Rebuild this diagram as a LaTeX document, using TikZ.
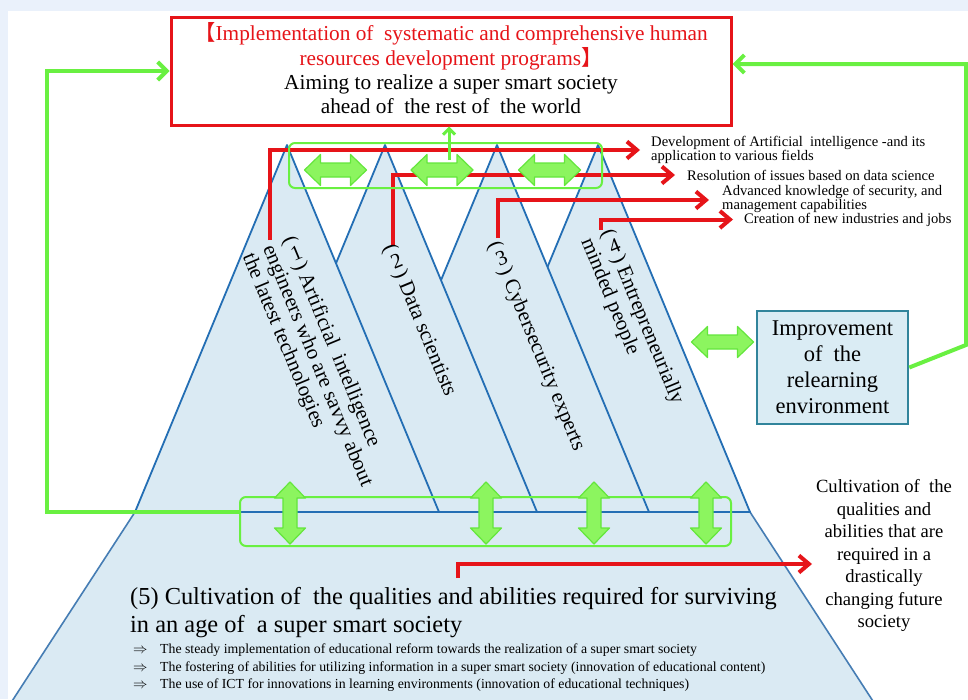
\documentclass[tikz,border=0pt]{standalone}
\usepackage{fontspec}
\setmainfont{Liberation Serif}
\newfontfamily\cjk{Noto Sans CJK JP}
\usetikzlibrary{arrows.meta,calc}

\definecolor{frameblue}{RGB}{234,241,251}
\definecolor{goalred}{RGB}{230,20,25}
\definecolor{linegreen}{RGB}{105,240,65}
\definecolor{arrowfill}{RGB}{140,245,95}
\definecolor{arrowedge}{RGB}{100,230,60}
\definecolor{edgeblue}{RGB}{35,110,180}
\definecolor{baseedge}{RGB}{70,125,180}
\definecolor{paleblue}{RGB}{218,234,243}
\definecolor{boxteal}{RGB}{49,132,155}
\definecolor{boxfill}{RGB}{218,236,244}

% upright digit inside a vertically set label
\newcommand{\updigit}[1]{(\,\rotatebox[origin=c]{90}{#1}\,)\ }

\tikzset{
  goalbox/.style={draw=goalred, line width=3pt, fill=white, minimum width=560pt,
    minimum height=108pt, inner sep=0pt},
  goaltext/.style={align=center, inner sep=0pt, font=\fontsize{21.3}{24.3}\selectfont},
  prism/.style={fill=paleblue, draw=edgeblue, line width=1.8pt, line join=round},
  grouprect/.style={draw=linegreen, line width=2pt, rounded corners=6pt},
  feedback/.style={draw=linegreen, line width=4pt, -{Straight Barb[length=9pt,width=18pt]}},
  outcome/.style={draw=goalred, line width=4pt, -{Straight Barb[length=10pt,width=17pt]}},
  rolelabel/.style={rotate=-67.5, anchor=north west, align=left, inner sep=0pt,
    font=\fontsize{21}{22}\selectfont},
  resultlabel/.style={anchor=west, align=left, inner sep=0pt, font=\fontsize{14.6}{12}\selectfont},
  pics/dblarrow/.style={code={
    \draw[fill=arrowfill, draw=arrowedge, line width=1.2pt, line join=round]
      (-31,0) -- (-15,-15.5) -- (-15,-7) -- (15,-7) -- (15,-15.5) -- (31,0)
      -- (15,15.5) -- (15,7) -- (-15,7) -- (-15,15.5) -- cycle;}},
}

\begin{document}
\begin{tikzpicture}[x=1pt,y=-1pt]
% page frame
\fill[frameblue] (0,0) rectangle (968,699);
\fill[white] (8,11) rectangle (968,699);
\useasboundingbox (0,0) rectangle (968,699);

% foundation: cultivation of qualities and abilities
\fill[paleblue] (135,512) -- (750,512) -- (875.5,705) -- (9.5,705) -- cycle;
\draw[draw=baseedge, line width=1.6pt, line join=round] (9.5,705) -- (135,512) -- (750,512) -- (875.5,705);

% the four human-resource pillars, back to front
\foreach \ax/\n in {598/4,497/3,385/2,287/1}{
  \draw[prism] (\ax,145) coordinate (apex\n) -- (\ax+152,512) -- (\ax-152,512) -- cycle;
}

% outcome arrows from the pillars
\coordinate (s1) at (270,240);
\coordinate (s2) at (393,245);
\coordinate (s3) at (498,238);
\coordinate (s4) at (601,230);
\node[resultlabel] (res1) at (651,150) {Development of Artificial\ \ intelligence -and its\\application to various fields};
\node[resultlabel] (res2) at (687,175) {Resolution of issues based on data science};
\node[resultlabel] (res3) at (722,199) {Advanced knowledge of security, and\\management capabilities};
\node[resultlabel] (res4) at (744,219.5) {Creation of new industries and jobs};
\draw[outcome, shorten >=11pt] (s1) |- (res1.west);
\draw[outcome, shorten >=12pt] (s2) |- (res2.west);
\draw[outcome, shorten >=13pt] (s3) |- ([yshift=-1pt]res3.west);
\draw[outcome, shorten >=11pt] (s4) |- (res4.west);

% pillar labels
\node[rolelabel] (role1) at (297,234) {\updigit{1}Artificial\ \ intelligence\\engineers who are savvy about\\the latest technologies};
\node[rolelabel] (role2) at (397,242) {\updigit{2}Data scientists};
\node[rolelabel] (role3) at (502,239) {\updigit{3}Cybersecurity experts};
\node[rolelabel] (role4) at (615,227) {\updigit{4}Entrepreneurially\\minded people};

% goal
\node[goalbox] (goal) at (451,71) {};
\node[goaltext, yshift=2.5pt] (goaltitle) at (goal.center) {%
  \textcolor{goalred}{{\cjk 【}Implementation of\ \ systematic and comprehensive human}\\
  \textcolor{goalred}{resources development programs{\cjk 】}}\\
  Aiming to realize a super smart society\\
  ahead of\ \ the rest of\ \ the world};

% cooperation between the pillars
\node[grouprect, minimum width=313pt, minimum height=45pt] (topgroup) at (445.5,165.5) {};
\pic at (335.5,170) {dblarrow};
\pic at (442,170) {dblarrow};
\pic at (549.5,170) {dblarrow};
\coordinate (upstart) at (449,160);
\draw[draw=linegreen, line width=3pt, -{Straight Barb[length=6pt,width=12pt]}] (upstart) -- (goal.south -| upstart);

% link between pillars and foundation
\node[grouprect, minimum width=491pt, minimum height=49pt] (botgroup) at (485.5,521.5) {};
\foreach \cx in {290,486,594,706}{
  \pic[rotate=90] at (\cx,513) {dblarrow};
}

% relearning environment
\node[draw=boxteal, fill=boxfill, line width=2.5pt, minimum width=151pt, minimum height=113pt,
  align=center, font=\fontsize{22.5}{26}\selectfont] (relearn) at (832.5,367.5)
  {Improvement\\of\ \ the\\relearning\\environment};
\pic at (722.5,342) {dblarrow};

% feedback loops to the goal
\coordinate (fbL1) at (47,512);
\coordinate (fbL2) at (47,71);
\coordinate (fbR1) at (966,345);
\coordinate (fbR2) at (966,64);
\draw[feedback] ([yshift=9.5pt]botgroup.west) -- (fbL1) -- (fbL2) -- (goal.west);
\draw[feedback] (relearn.east) -- (fbR1) -- (fbR2) -- ([yshift=7pt]goal.east);

% foundation texts
\node[anchor=north west, align=left, inner sep=0pt, font=\fontsize{24.4}{28}\selectfont] (cultivate) at (130,587)
  {(5) Cultivation of\ \ the qualities and abilities required for surviving\\in an age of\ \ a super smart society};
\node[anchor=north west, align=left, inner sep=0pt, font=\fontsize{13.8}{17.5}\selectfont] (reforms) at (133,644)
  {\makebox[27pt][l]{$\Rightarrow$}The steady implementation of educational reform towards the realization of a super smart society\\
   \makebox[27pt][l]{$\Rightarrow$}The fostering of abilities for utilizing information in a super smart society (innovation of educational content)\\
   \makebox[27pt][l]{$\Rightarrow$}The use of ICT for innovations in learning environments (innovation of educational techniques)};

\node[align=center, inner sep=0pt, font=\fontsize{18.6}{22.5}\selectfont] (future) at (884,555.5)
  {Cultivation of\ \ the\\qualities and\\abilities that are\\required in a\\drastically\\changing future\\society};
\coordinate (s5) at (458,578);
\coordinate (fut) at (812,564);
\draw[outcome] (s5) |- (fut);
\end{tikzpicture}
\end{document}
